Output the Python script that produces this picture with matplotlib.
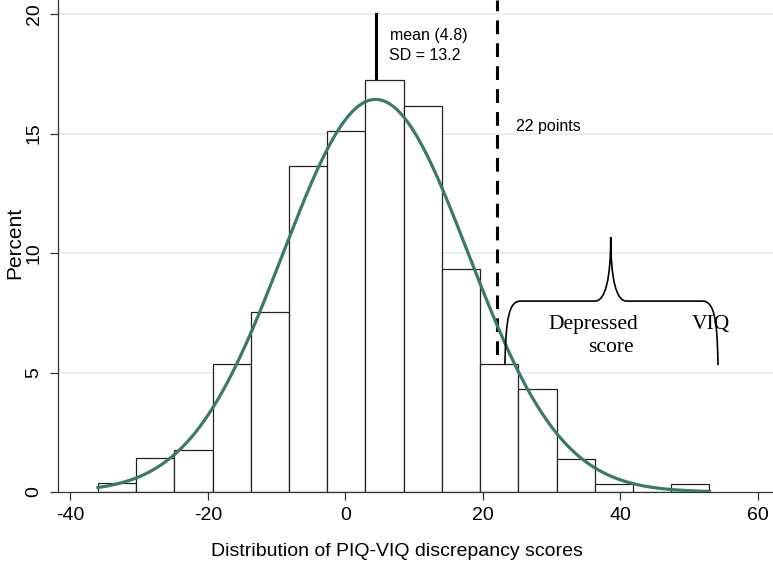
import numpy as np
import matplotlib.pyplot as plt
from matplotlib.path import Path
from matplotlib.patches import PathPatch

############################################
#   Data
############################################
bin_start = -36.0
bin_width = 5.56
percent   = [0.36, 1.41, 1.77, 5.36, 7.52, 13.64, 15.09, 17.24,
             16.16, 9.32, 5.36, 4.30, 1.39, 0.33, 0.0, 0.33]

curve_mean = 4.4      # where the fitted normal peaks in the figure
curve_sd   = 13.5
mean_line  = 4.4
cut_line   = 22

x_ticks = [-40, -20, 0, 20, 40, 60]
y_ticks = [0, 5, 10, 15, 20]

############################################
#   Figure setup
############################################
plt.rcParams['font.family'] = ['Liberation Sans', 'DejaVu Sans']
plt.rcParams['axes.unicode_minus'] = False

W, H = 773, 565
fig = plt.figure(figsize=(W / 100, H / 100), dpi=100, facecolor='white')
ax = fig.add_axes([58 / W, 73 / H, 1 - 58 / W, 1 - 73 / H])
ax.set_xlim(-41.8, 62.2)
ax.set_ylim(0, 20.59)

for s in ['top', 'right']:
    ax.spines[s].set_visible(False)
for s in ['left', 'bottom']:
    ax.spines[s].set_color('#333333')
    ax.spines[s].set_linewidth(0.9)

ax.set_xticks(x_ticks)
ax.set_yticks(y_ticks)
ax.tick_params(axis='both', direction='out', length=6, width=0.9,
               color='#333333', labelsize=14, pad=5)
ax.tick_params(axis='y', labelrotation=90)
for lab in ax.get_yticklabels():
    lab.set_va('center')

for yv in y_ticks[1:]:
    ax.axhline(yv, color='#e5eef0', lw=1.2, zorder=0)

############################################
#   Reference lines, bars, normal curve
############################################
ax.plot([mean_line, mean_line], [0, 20], color='black', lw=2.2, zorder=1)
ax.plot([cut_line, cut_line], [0, 20.59], color='black', lw=2.2,
        dashes=(4.5, 3), zorder=1)

edges = bin_start + bin_width * np.arange(len(percent) + 1)
ax.bar(edges[:-1], percent, width=bin_width, align='edge',
       facecolor='white', edgecolor='#222222', linewidth=0.9, zorder=2)

xs = np.linspace(edges[0], edges[-1], 400)
ys = 100 * bin_width * np.exp(-0.5 * ((xs - curve_mean) / curve_sd) ** 2) \
     / (curve_sd * np.sqrt(2 * np.pi))
ax.plot(xs, ys, color='#3c786c', lw=2.3, zorder=3)

############################################
#   Annotations
############################################
ax.text(6.5, 19.12, 'mean (4.8)', fontsize=11.5, va='center', ha='left')
ax.text(6.3, 18.28, 'SD = 13.2', fontsize=11.5, va='center', ha='left')
ax.text(24.8, 15.31, '22 points', fontsize=11.5, va='center', ha='left')

# curly brace over the right tail
yb, ylo, ytip = 7.99, 5.31, 10.67
xl, xr, xt = 23.2, 54.2, 38.6
verts = [(xl, ylo), (xl + 0.15, 7.3), (xl + 0.6, yb), (xl + 2.3, yb),
         (xt - 2.3, yb),
         (xt - 0.8, yb), (xt, 8.9), (xt, ytip),
         (xt, 8.9), (xt + 0.8, yb), (xt + 2.3, yb),
         (xr - 2.3, yb),
         (xr - 0.6, yb), (xr - 0.1, 7.3), (xr, ylo)]
codes = [Path.MOVETO, Path.CURVE4, Path.CURVE4, Path.CURVE4,
         Path.LINETO,
         Path.CURVE4, Path.CURVE4, Path.CURVE4,
         Path.CURVE4, Path.CURVE4, Path.CURVE4,
         Path.LINETO,
         Path.CURVE4, Path.CURVE4, Path.CURVE4]
ax.add_patch(PathPatch(Path(verts, codes), facecolor='none',
                       edgecolor='black', lw=1.2, zorder=4))

serif = ['Liberation Serif', 'DejaVu Serif']
ax.text(36.0, 6.99, 'Depressed', family=serif, fontsize=15.5,
        ha='center', va='center')
ax.text(38.6, 6.03, 'score', family=serif, fontsize=15.5,
        ha='center', va='center')
ax.text(53.1, 6.99, 'VIQ', family=serif, fontsize=15.5,
        ha='center', va='center')

fig.text(397 / W, 1 - 552 / H, 'Distribution of PIQ-VIQ discrepancy scores',
         fontsize=14, ha='center', va='center')
fig.text(15 / W, 1 - 243 / H, 'Percent', fontsize=15, rotation=90,
         ha='center', va='center')

fig.savefig('out.png', dpi=100)
